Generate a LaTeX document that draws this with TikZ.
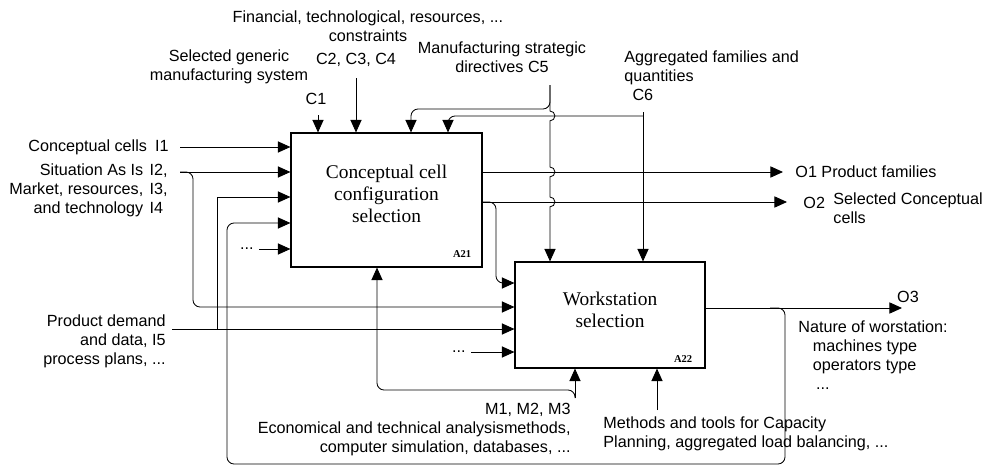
\documentclass[tikz,border=0pt]{standalone}
\usepackage{fontspec}
\setmainfont{Liberation Sans}
\newfontfamily\boxfont{Liberation Serif}
\usetikzlibrary{arrows.meta}

\begin{document}
\begin{tikzpicture}[
    x=0.025cm, y=-0.025cm,
    line width=0.6pt,
    act/.style={rectangle, draw, line width=0.8pt, align=center, inner sep=0pt,
        font=\boxfont\fontsize{13.8}{15.6}\selectfont},
    lbl/.style={inner sep=0pt, font=\fontsize{11.5}{13.5}\selectfont},
    tag/.style={inner sep=0pt, font=\boxfont\bfseries\fontsize{7.5}{8}\selectfont},
    arrow/.style={-{Triangle[length=9pt,width=8pt]}},
    flow/.style={arrow, rounded corners=5pt}
]
    \useasboundingbox (0,0) rectangle (982,467);

    % Activities
    \node[act, minimum width=4.775cm, minimum height=3.35cm] (cellsel) at (386.5,200)
        {Conceptual cell\\configuration\\selection\\[-6.5pt]\mbox{}};
    \node[act, minimum width=4.75cm, minimum height=2.65cm] (wssel) at (610,315)
        {Workstation\\selection\\[-7.5pt]\mbox{}};
    \node[tag, anchor=south east] (tagA) at ([shift={(-11,-10)}]cellsel.south east) {A21};
    \node[tag, anchor=south east] (tagB) at ([shift={(-13,-6)}]wssel.south east) {A22};

    % Inputs
    \node[lbl, anchor=east] (i1) at (169,147) {Conceptual cells\enspace I1};
    \node[lbl, anchor=east] (situation) at (168,191) {\begin{tabular}{@{}r@{\hspace{4.5pt}}l@{}}
        Situation As Is & I2,\\ Market, resources, & I3,\\ and technology & I4\end{tabular}};
    \node[lbl, anchor=east, align=right] (demand) at (166,341)
        {Product demand\\and data, I5\\process plans, ...};
    \node[lbl, anchor=east] (moreA) at (254,249) {...};
    \node[lbl, anchor=east] (moreB) at (466,352) {...};

    \coordinate (i1in) at (180,147);
    \coordinate (sitin) at (180,172);
    \coordinate (sitdrop) at (193,307);
    \coordinate (demin) at (172,329);
    \coordinate (demup) at (217,329);
    \coordinate (demtoA) at (217,197);
    \coordinate (moreAin) at (259,249);
    \coordinate (moreBin) at (471,352);

    \draw[arrow] (i1in) -- (i1in -| cellsel.west);
    \draw[arrow] (sitin) -- (sitin -| cellsel.west);
    \draw[flow] (sitin) -| (sitdrop) -- (sitdrop -| wssel.west);
    \draw[arrow] (demin) -- (demin -| wssel.west);
    \draw[arrow] (demup) -- (demtoA) -- (demtoA -| cellsel.west);
    \draw[arrow] (moreAin) -- (moreAin -| cellsel.west);
    \draw[arrow] (moreBin) -- (moreBin -| wssel.west);

    % Controls
    \node[lbl, align=center] (constr) at (368,26)
        {Financial, technological, resources, ...\\constraints};
    \node[lbl] (c234) at (356,60) {C2, C3, C4};
    \node[lbl, align=center] (generic) at (229,67) {Selected generic\\manufacturing system};
    \node[lbl] (c1) at (316,99) {C1};
    \node[lbl, align=center] (c5lbl) at (502,57) {Manufacturing strategic\\directives C5};
    \node[lbl, align=left, anchor=west] (c6lbl) at (624,76)
        {Aggregated families and\\quantities\\\hspace*{0.5em}C6};

    \coordinate (c1in) at (318,115);
    \coordinate (c234in) at (356,78);
    \coordinate (c5top) at (550,85);
    \coordinate (c5toA) at (411,109);
    \coordinate (c6top) at (643,112);
    \coordinate (c6toA) at (448,116);

    \draw[arrow] (c1in) -- (c1in |- cellsel.north);
    \draw[arrow] (c234in) -- (c234in |- cellsel.north);
    \draw[flow] (c5top) |- (c5toA) -- (c5toA |- cellsel.north);
    \draw[arrow] (c5top) -- (550,111) arc[start angle=90, end angle=-90, radius=3.5pt]
        -- (550,167) arc[start angle=90, end angle=-90, radius=3.5pt]
        -- (550,197) arc[start angle=90, end angle=-90, radius=3.5pt]
        -- (c5top |- wssel.north);
    \draw[arrow] (c6top) -- (c6top |- wssel.north);
    \draw[flow] (c6top |- c6toA) -- (c6toA) -- (c6toA |- cellsel.north);

    % Outputs
    \coordinate (o1end) at (783,172);
    \coordinate (o2end) at (787,202);
    \coordinate (o2drop) at (496,283);
    \coordinate (o3end) at (902,308);
    \coordinate (o3split) at (770,308);
    \coordinate (fbdown) at (785,464);
    \coordinate (fbA) at (227,223);

    \node[lbl, anchor=west] (o1lbl) at (795,172) {O1 Product families};
    \node[lbl, anchor=west] (o2lbl) at (803,203) {O2};
    \node[lbl, anchor=west, align=left] (o2txt) at (833,208) {Selected Conceptual\\cells};
    \node[lbl] (o3lbl) at (908,297) {O3};
    \node[lbl, anchor=west, align=left] (o3txt) at (798,355)
        {Nature of worstation:\\\hspace*{0.9em}machines type\\\hspace*{0.9em}operators type\\\hspace*{1.1em}...};

    \draw[arrow] (o1end -| cellsel.east) -- (o1end);
    \draw[arrow] (o2end -| cellsel.east) -- (o2end);
    \draw[flow] (o2end -| cellsel.east) -| (o2drop) -- (o2drop -| wssel.west);
    \draw[arrow] (o3end -| wssel.east) -- (o3end);
    \draw[flow] (o3split) -| (fbdown) -| (fbA) -- (fbA -| cellsel.west);

    % Mechanisms
    \coordinate (mjoin) at (575,398);
    \coordinate (mtoA) at (377,390);
    \coordinate (capin) at (657,410);

    \node[lbl, anchor=east, align=right] (mlbl) at (571,430)
        {M1, M2, M3\\Economical and technical analysismethods,\\computer simulation, databases, ...};
    \node[lbl, anchor=west, align=left] (caplbl) at (603,434)
        {Methods and tools for Capacity\\Planning, aggregated load balancing, ...};

    \draw[arrow] (mjoin) -- (mjoin |- wssel.south);
    \draw[flow] (mjoin) |- (mtoA) -- (mtoA |- cellsel.south);
    \draw[arrow] (capin) -- (capin |- wssel.south);
\end{tikzpicture}
\end{document}
